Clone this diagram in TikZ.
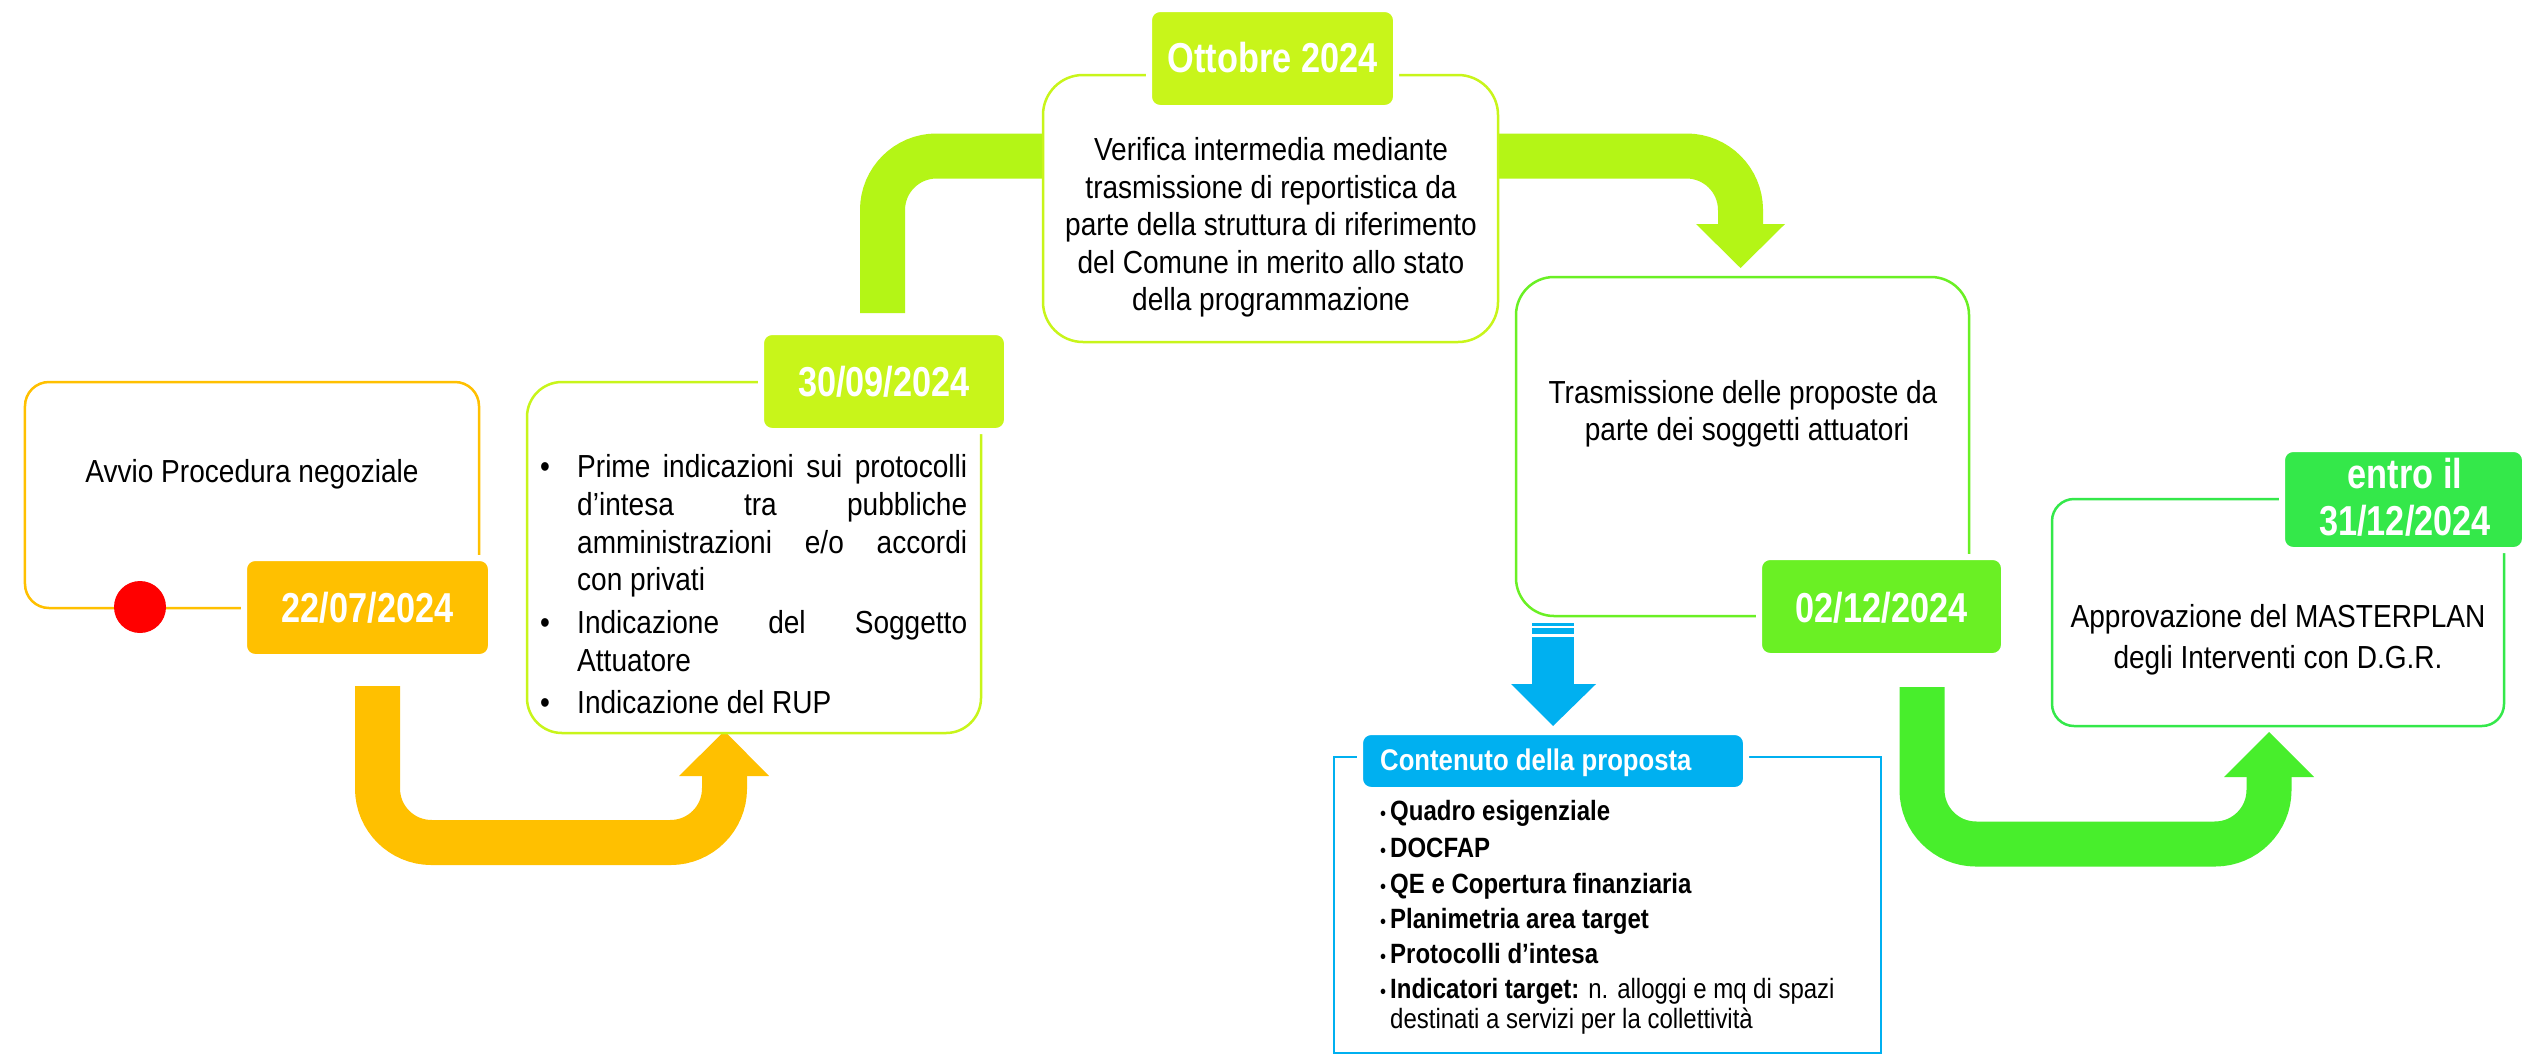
\documentclass[tikz,border=0pt]{standalone}
\usepackage{fontspec}
\setmainfont{Liberation Sans}
\newfontfamily\fR{Liberation Sans}[FakeStretch=0.88]
\newfontfamily\fD{Liberation Sans}[FakeStretch=0.82]
\newfontfamily\fC{Liberation Sans}[FakeStretch=0.86]
\newcommand\tR{\fR\fontsize{32}{38}\selectfont}
\newcommand\tD{\fD\bfseries\fontsize{42}{47}\selectfont}
\newcommand\tC{\fC\fontsize{28}{30}\selectfont}
\newcommand\tH{\fC\bfseries\fontsize{30}{32}\selectfont}
\definecolor{orng}{HTML}{FFC000}
\definecolor{limeA}{HTML}{C8F51A}
\definecolor{limeB}{HTML}{B4F516}
\definecolor{grnA}{HTML}{6AF024}
\definecolor{grnB}{HTML}{48EE2C}
\definecolor{grnC}{HTML}{34E84A}
\definecolor{blu}{HTML}{00B0F0}
\definecolor{dotred}{HTML}{FF0000}
\tikzset{
  card/.style={draw=#1, line width=2.5bp, fill=white, inner sep=0pt},
  datetag/.style={fill=#1, draw=white, line width=6bp, rounded corners=11bp, inner sep=0pt},
  band/.style={draw=#1, line width=45bp, rounded corners=54bp},
  ahead/.style={fill=#1, draw=none},
  tx/.style={anchor=base, inner sep=0pt, font=\tR},
  txl/.style={anchor=base west, inner sep=0pt, font=\tR},
  dt/.style={anchor=base, inner sep=0pt, font=\tD, text=white},
  ct/.style={anchor=base west, inner sep=0pt, font=\tC},
  cb/.style={anchor=base, inner sep=0pt, font=\fC\fontsize{20}{20}\selectfont},
}
\begin{document}
\begin{tikzpicture}[x=1bp,y=-1bp]
\fill[white] (0,0) rectangle (2524,1055);
\useasboundingbox (0,0) rectangle (2524,1055);

% ---------- big arrows ----------
\coordinate (oS) at (377.5,686);
\coordinate (oB1) at (377.5,842.5);
\coordinate (oB2) at (724.5,842.5);
\coordinate (oE) at (724.5,772);
\draw[band=orng] (oS) -- (oB1) -- (oB2) -- (oE);
\fill[ahead=orng] (679,776) -- (769,776) -- (724.5,731) -- cycle;

\coordinate (gS) at (882.5,313);
\coordinate (gC) at (882.5,156);
\coordinate (gE) at (1080,156);
\draw[band=limeB] (gS) -- (gC) -- (gE);

\coordinate (hS) at (1460,156);
\coordinate (hC) at (1740.5,156);
\coordinate (hE) at (1740.5,228);
\draw[band=limeB] (hS) -- (hC) -- (hE);
\fill[ahead=limeB] (1696,224) -- (1785,224) -- (1740.5,268) -- cycle;

\coordinate (kS) at (1922,687);
\coordinate (kB1) at (1922,844);
\coordinate (kB2) at (2269,844);
\coordinate (kE) at (2269,773);
\draw[band=grnB] (kS) -- (kB1) -- (kB2) -- (kE);
\fill[ahead=grnB] (2224,777) -- (2314,777) -- (2269,732) -- cycle;

% blue arrow
\fill[blu] (1532,623) rectangle (1574,626);
\fill[blu] (1532,628) rectangle (1574,634);
\fill[blu] (1532,637) rectangle (1574,686);
\fill[ahead=blu] (1511,684) -- (1596,684) -- (1553,726) -- cycle;

% ---------- cards ----------
\node[card=orng, rounded corners=24bp, minimum width=454bp, minimum height=226bp] (b1) at (252,495) {};
\node[card=limeA, rounded corners=35bp, minimum width=454bp, minimum height=351bp] (b2) at (754,557.5) {};
\node[card=limeA, rounded corners=40bp, minimum width=455bp, minimum height=267bp] (b3) at (1270.5,208.5) {};
\node[card=grnA, rounded corners=38bp, minimum width=453bp, minimum height=339bp] (b4) at (1742.5,446.5) {};
\node[card=grnC, rounded corners=22bp, minimum width=452bp, minimum height=227bp] (b5) at (2278,612.5) {};
\node[draw=blu, line width=2.5bp, inner sep=0pt, minimum width=547bp, minimum height=296bp] (b6) at (1607.5,905) {};

% ---------- date tags ----------
\node[datetag=orng, minimum width=247bp, minimum height=99bp] (d1) at (367.5,607.5) {};
\node[datetag=limeA, minimum width=246bp, minimum height=99bp] (d2) at (884,381.5) {};
\node[datetag=limeA, minimum width=247bp, minimum height=99bp] (d3) at (1272.5,58.5) {};
\node[datetag=grnA, minimum width=245bp, minimum height=99bp] (d4) at (1881.5,606.5) {};
\node[datetag=grnC, minimum width=243bp, minimum height=101bp] (d5) at (2403.5,499.5) {};
\node[datetag=blu, minimum width=386bp, minimum height=58bp] (d6) at (1553,761) {};

\fill[dotred] (140,607) circle[radius=26];

% ---------- tag texts ----------
\node[dt] (t1) at (367.5,622) {22/07/2024};
\node[dt] (t2) at (884,396) {30/09/2024};
\node[dt] (t3) at (1272.5,72) {Ottobre 2024};
\node[dt] (t4) at (1881.5,622) {02/12/2024};
\node[dt] (t5a) at (2405,488) {entro il};
\node[dt] (t5b) at (2405,535) {31/12/2024};
\node[anchor=base west, inner sep=0pt, font=\tH, text=white] (t6) at (1380,770) {Contenuto della proposta};

% ---------- card texts ----------
\node[tx] (a1) at (252,482) {Avvio Procedura negoziale};

\node[tx] (q1) at (545,477) {\textbullet};
\node[txl] (p1) at (577,477) {\makebox[390bp][s]{Prime indicazioni sui protocolli}};
\node[txl] (p2) at (577,515) {\makebox[390bp][s]{d’intesa tra pubbliche}};
\node[txl] (p3) at (577,553) {\makebox[390bp][s]{amministrazioni e/o accordi}};
\node[txl] (p4) at (577,590) {con privati};
\node[tx] (q2) at (545,633) {\textbullet};
\node[txl] (p5) at (577,633) {\makebox[390bp][s]{Indicazione del Soggetto}};
\node[txl] (p6) at (577,671) {Attuatore};
\node[tx] (q3) at (545,713) {\textbullet};
\node[txl] (p7) at (577,713) {Indicazione del RUP};

\node[tx] (v1) at (1271,160) {Verifica intermedia mediante};
\node[tx] (v2) at (1271,198) {trasmissione di reportistica da};
\node[tx] (v3) at (1271,235) {parte della struttura di riferimento};
\node[tx] (v4) at (1271,273) {del Comune in merito allo stato};
\node[tx] (v5) at (1271,310) {della programmazione};

\node[tx] (r1) at (1743,403) {Trasmissione delle proposte da};
\node[tx] (r2) at (1747,440) {parte dei soggetti attuatori};

\node[tx] (m1) at (2278,627) {Approvazione del MASTERPLAN};
\node[tx] (m2) at (2278,668) {degli Interventi con D.G.R.};

\foreach \yy/\nm in {820/1,857/2,893/3,928/4,963/5,998/6}
  \node[cb] (cq\nm) at (1383,\yy) {\textbullet};
\node[ct] (c1) at (1390,820) {\bfseries Quadro esigenziale};
\node[ct] (c2) at (1390,857) {\bfseries DOCFAP};
\node[ct] (c3) at (1390,893) {\bfseries QE e Copertura finanziaria};
\node[ct] (c4) at (1390,928) {\bfseries Planimetria area target};
\node[ct] (c5) at (1390,963) {\bfseries Protocolli d’intesa};
\node[ct] (c6) at (1390,998) {\textbf{Indicatori target:} n. alloggi e mq di spazi};
\node[ct] (c7) at (1390,1028) {destinati a servizi per la collettività};
\end{tikzpicture}
\end{document}
